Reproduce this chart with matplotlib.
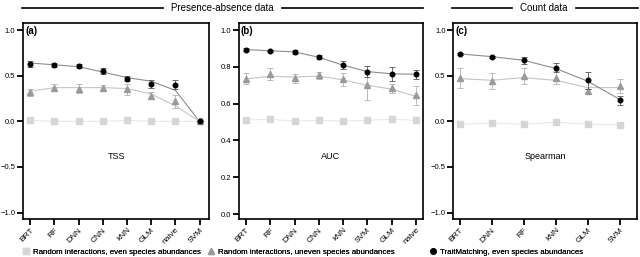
import numpy as np
import matplotlib
matplotlib.use("Agg")
import matplotlib.pyplot as plt
from matplotlib.lines import Line2D

plt.rcParams['font.family'] = ['Liberation Sans', 'DejaVu Sans']

# ---- data ----
cats_a = ["BRT", "RF", "DNN", "CNN", "kNN", "GLM", "naive", "SVM"]
tm_a = [0.63, 0.62, 0.61, 0.55, 0.47, 0.41, 0.40, 0.0]
tm_a_err = [0.03, 0.02, 0.02, 0.03, 0.03, 0.04, 0.05, 0.0]
tm_a_line = [0.64, 0.62, 0.60, 0.54, 0.48, 0.44, 0.34, 0.0]
un_a = [0.32, 0.37, 0.36, 0.37, 0.35, 0.28, 0.22, 0.0]
un_a_err = [0.04, 0.04, 0.05, 0.03, 0.06, 0.04, 0.07, 0.0]
un_a_line = [0.33, 0.37, 0.37, 0.37, 0.36, 0.30, 0.17, 0.0]
ev_a = [0.01, 0.0, 0.0, 0.0, 0.01, 0.0, 0.0, 0.0]
ev_a_err = [0.01, 0.01, 0.01, 0.01, 0.01, 0.01, 0.01, 0.0]

cats_b = ["BRT", "RF", "DNN", "CNN", "kNN", "SVM", "GLM", "naive"]
tm_b = [0.895, 0.888, 0.882, 0.853, 0.81, 0.775, 0.763, 0.76]
tm_b_err = [0.008, 0.006, 0.01, 0.012, 0.02, 0.03, 0.037, 0.025]
tm_b_line = [0.895, 0.888, 0.882, 0.853, 0.81, 0.775, 0.763, 0.76]
un_b = [0.735, 0.762, 0.739, 0.755, 0.732, 0.70, 0.685, 0.645]
un_b_err = [0.03, 0.035, 0.025, 0.02, 0.035, 0.08, 0.025, 0.05]
un_b_line = [0.735, 0.75, 0.745, 0.75, 0.73, 0.70, 0.68, 0.64]
ev_b = [0.512, 0.515, 0.505, 0.51, 0.505, 0.51, 0.515, 0.51]
ev_b_err = [0.015, 0.015, 0.015, 0.01, 0.015, 0.012, 0.012, 0.012]

cats_c = ["BRT", "DNN", "RF", "kNN", "GLM", "SVM"]
tm_c = [0.74, 0.71, 0.67, 0.59, 0.45, 0.23]
tm_c_err = [0.01, 0.01, 0.04, 0.05, 0.09, 0.05]
tm_c_line = [0.74, 0.71, 0.67, 0.58, 0.44, 0.24]
un_c = [0.48, 0.44, 0.50, 0.48, 0.33, 0.39]
un_c_err = [0.11, 0.09, 0.09, 0.07, 0.03, 0.08]
un_c_line = [0.47, 0.45, 0.48, 0.45, 0.37, 0.37]
ev_c = [-0.03, -0.02, -0.03, -0.01, -0.03, -0.04]
ev_c_err = [0.01, 0.01, 0.01, 0.02, 0.01, 0.01]

panels = [
    ("(a)", "TSS", cats_a, tm_a, tm_a_err, tm_a_line, un_a, un_a_err, un_a_line, ev_a, ev_a_err,
     (-1.07, 1.08), [-1.0, -0.5, 0.0, 0.5, 1.0], (-0.3, 7.4), [0.036, 0.148, 0.291, 0.763]),
    ("(b)", "AUC", cats_b, tm_b, tm_b_err, tm_b_line, un_b, un_b_err, un_b_line, ev_b, ev_b_err,
     (-0.027, 1.04), [0.0, 0.2, 0.4, 0.6, 0.8, 1.0], (-0.3, 7.3), [0.373, 0.148, 0.288, 0.763]),
    ("(c)", "Spearman", cats_c, tm_c, tm_c_err, tm_c_line, un_c, un_c_err, un_c_line, ev_c, ev_c_err,
     (-1.07, 1.08), [-1.0, -0.5, 0.0, 0.5, 1.0], (-0.2, 5.55), [0.708, 0.148, 0.288, 0.763]),
]

c_tm = "black"
c_un = "#9a9a9a"
c_ev = "#d6d6d6"

fig = plt.figure(figsize=(6.4, 2.57), dpi=100)

for (lab, metric, cats, tm, tme, tml, un, une, unl, ev, eve, ylim, yt, xlim, pos) in panels:
    ax = fig.add_axes(pos)
    x = np.arange(len(cats))
    ax.plot(x, ev, color="#e8e8e8", lw=0.8, zorder=1)
    ax.plot(x, unl, color="#c4c4c4", lw=0.8, zorder=1)
    ax.plot(x, tml, color="#8c8c8c", lw=0.8, zorder=1)
    ax.errorbar(x, ev, yerr=eve, fmt="s", color=c_ev, ecolor="#dddddd", ms=4, elinewidth=0.6,
                capsize=2, capthick=0.6, zorder=2)
    ax.errorbar(x, un, yerr=une, fmt="^", color=c_un, ecolor="#b0b0b0", ms=3.8, elinewidth=0.6,
                capsize=2, capthick=0.6, zorder=3)
    ax.errorbar(x, tm, yerr=tme, fmt="o", color=c_tm, ecolor="#555555", ms=3.3, elinewidth=0.6,
                capsize=2, capthick=0.6, zorder=4)
    ax.set_ylim(*ylim)
    ax.set_xlim(*xlim)
    ax.set_yticks(yt)
    ax.set_yticklabels(["%.1f" % v if v >= 0 else "\u2212%.1f" % -v for v in yt], fontsize=5.5)
    ax.set_xticks(x)
    ax.set_xticklabels(cats, rotation=45, ha="right", rotation_mode="anchor", fontsize=6)
    ax.tick_params(axis="both", length=4, width=1.3, pad=1.5, color="black")
    for s in ax.spines.values():
        s.set_linewidth(1.2)
    ax.text(0.012, 0.985, lab, transform=ax.transAxes, fontsize=7, fontweight="bold",
            va="top", ha="left")
    ax.text(0.5, 0.32, metric, transform=ax.transAxes, fontsize=6.5, ha="center", va="center")

# group headers
hy = 1 - 8 / 257
fig.add_artist(Line2D([22 / 640, 163 / 640], [hy, hy], color="black", lw=1.2))
fig.add_artist(Line2D([282 / 640, 423 / 640], [hy, hy], color="black", lw=1.2))
fig.text(222 / 640, hy, "Presence-absence data", fontsize=7, ha="center", va="center")
fig.add_artist(Line2D([452 / 640, 512 / 640], [hy, hy], color="black", lw=1.2))
fig.add_artist(Line2D([576 / 640, 638 / 640], [hy, hy], color="black", lw=1.2))
fig.text(544 / 640, hy, "Count data", fontsize=7, ha="center", va="center")

# legend: three separate entries placed like the reference
handles = [
    Line2D([], [], ls="none", marker="s", color=c_ev, ms=4.5),
    Line2D([], [], ls="none", marker="^", color=c_un, ms=4.5),
    Line2D([], [], ls="none", marker="o", color=c_tm, ms=3.8),
]
labels = ["Random interactions, even species abundances",
          "Random interactions, uneven species abundances",
          "TraitMatching, even species abundances"]
starts = [22, 207, 429]
ly = 1 - 252 / 257
for h, l, sx in zip(handles, labels, starts):
    lg = fig.legend([h], [l], loc="center left", bbox_to_anchor=(sx / 640, ly), frameon=False,
                    fontsize=5.7, handletextpad=0.4, handlelength=1.0, borderaxespad=0,
                    borderpad=0)
    fig.add_artist(lg)

fig.savefig("out.png", dpi=100)
